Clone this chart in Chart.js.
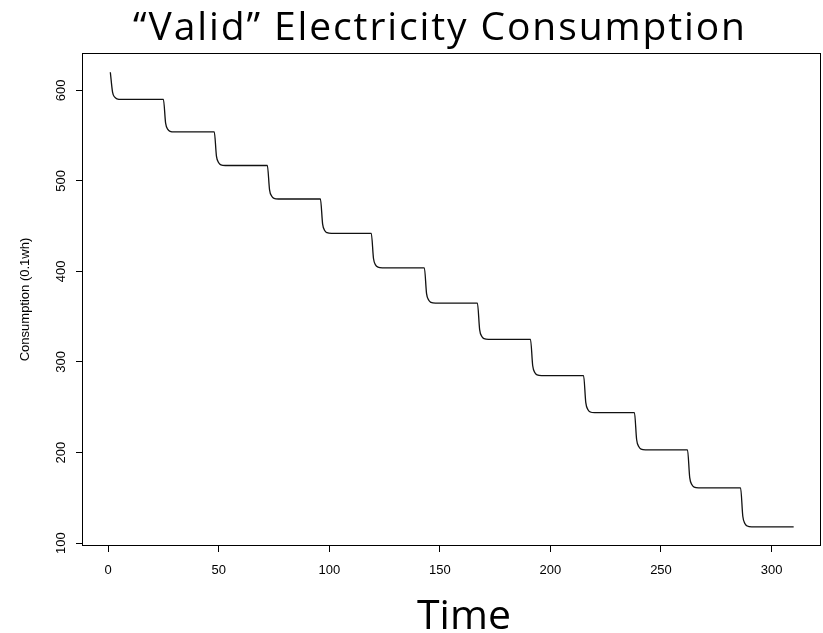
<!DOCTYPE html>
<html>
<head>
<meta charset="utf-8">
<script src="https://cdn.jsdelivr.net/npm/chart.js@4.4.1/dist/chart.umd.min.js"></script>
<style>
  body { margin: 0; background: #fff; }
  #wrap { width: 823px; height: 633px; }
</style>
</head>
<body>
<div id="wrap"><canvas id="chart" width="823" height="633"></canvas></div>
<script>
// sampled meter readings (time index, consumption in 0.1wh)
const time = [
  1, 2, 3, 4, 6,
  25, 26, 27, 28, 30,
  48, 49, 50, 51, 53,
  72, 73, 74, 75, 77,
  96, 97, 98, 99, 101,
  119, 120, 121, 122, 124,
  143, 144, 145, 146, 148,
  167, 168, 169, 170, 172,
  191, 192, 193, 194, 196,
  215, 216, 217, 218, 220,
  238, 239, 240, 241, 243,
  262, 263, 264, 265, 267,
  286, 287, 288, 289, 291,
  310
];
const consumption = [
  620, 598.1, 592.4, 590.6, 590,
  590, 563.7, 556.9, 554.7, 554,
  554, 527.0, 520.0, 517.7, 517,
  517, 490.0, 483.0, 480.7, 480,
  480, 452.3, 445.0, 442.8, 442,
  442, 414.3, 407.0, 404.8, 404,
  404, 375.5, 368.1, 365.8, 365,
  365, 335.8, 328.2, 325.8, 325,
  325, 295.8, 288.2, 285.8, 285,
  285, 255.1, 247.3, 244.8, 244,
  244, 214.1, 206.3, 203.8, 203,
  203, 172.3, 164.4, 161.8, 161,
  161, 129.6, 121.4, 118.9, 118,
  118
];
const xTicks = [0, 50, 100, 150, 200, 250, 300];
const yTicks = [100, 200, 300, 400, 500, 600];

const titleText = '\u201CValid\u201D Electricity Consumption';
const xTitle = 'Time';
const yTitle = 'Consumption (0.1wh)';

// draws text centred on cx, nudging letter spacing so the run is `width` wide
function spreadText(ctx, text, cx, y, width) {
  ctx.letterSpacing = '0px';
  const w = ctx.measureText(text).width;
  const gap = (width - w) / (text.length - 1);
  ctx.letterSpacing = gap + 'px';
  ctx.textAlign = 'left';
  ctx.fillText(text, cx - width / 2, y);
  ctx.letterSpacing = '0px';
}

// box around the plot + rotated y labels + big slide-style texts
const decor = {
  id: 'decor',
  afterDraw(chart) {
    const ctx = chart.ctx;
    const a = chart.chartArea;
    ctx.save();
    ctx.strokeStyle = '#000';
    ctx.lineWidth = 1;
    ctx.strokeRect(Math.round(a.left) - 0.5, Math.round(a.top) - 0.5,
      Math.round(a.right - a.left), Math.round(a.bottom - a.top) + 1);

    // y tick labels, R style (rotated, reading upward)
    const ys = chart.scales.y;
    ctx.fillStyle = '#000';
    ctx.font = '13px "Liberation Sans", Arial, sans-serif';
    ctx.textAlign = 'center';
    ctx.textBaseline = 'middle';
    ys.ticks.forEach(t => {
      ctx.save();
      ctx.translate(61, ys.getPixelForValue(t.value));
      ctx.rotate(-Math.PI / 2);
      ctx.fillText(String(t.value), 0, 0);
      ctx.restore();
    });

    ctx.textBaseline = 'alphabetic';
    ctx.font = '39px "Open Sans", Lato, sans-serif';
    spreadText(ctx, titleText, 439, 40, 612);
    ctx.font = '41px "Open Sans", Lato, sans-serif';
    spreadText(ctx, xTitle, 464, 629, 94);
    ctx.restore();
  }
};

const ctx = document.getElementById('chart').getContext('2d');
const myChart = new Chart(ctx, {
  type: 'line',
  data: {
    datasets: [{
      data: time.map((t, i) => ({ x: t, y: consumption[i] })),
      borderColor: '#111',
      borderWidth: 1.3,
      pointRadius: 0,
      fill: false,
      cubicInterpolationMode: 'monotone'
    }]
  },
  options: {
    responsive: false,
    animation: false,
    layout: { padding: { top: 54, right: 2, left: 0, bottom: 0 } },
    plugins: {
      legend: { display: false },
      tooltip: { enabled: false }
    },
    scales: {
      x: {
        type: 'linear',
        min: -11.36,
        max: 322.36,
        afterBuildTicks: s => { s.ticks = xTicks.map(v => ({ value: v })); },
        afterFit: s => { s.height = 88; },
        border: { display: false },
        grid: { drawOnChartArea: false, drawTicks: true, tickLength: 7, color: '#000', lineWidth: 1 },
        ticks: {
          color: '#000',
          padding: 11,
          maxRotation: 0,
          font: { family: '"Liberation Sans", Arial, sans-serif', size: 13 }
        }
      },
      y: {
        type: 'linear',
        min: 97.9,
        max: 640.1,
        afterBuildTicks: s => { s.ticks = yTicks.map(v => ({ value: v })); },
        afterFit: s => { s.width = 83; },
        border: { display: false },
        grid: { drawOnChartArea: false, drawTicks: true, tickLength: 7, color: '#000', lineWidth: 1 },
        ticks: { display: false },
        title: {
          display: true,
          text: yTitle,
          color: '#000',
          padding: { top: 18, bottom: 0 },
          font: { family: '"Liberation Sans", Arial, sans-serif', size: 13 }
        }
      }
    }
  },
  plugins: [decor]
});
</script>
</body>
</html>
